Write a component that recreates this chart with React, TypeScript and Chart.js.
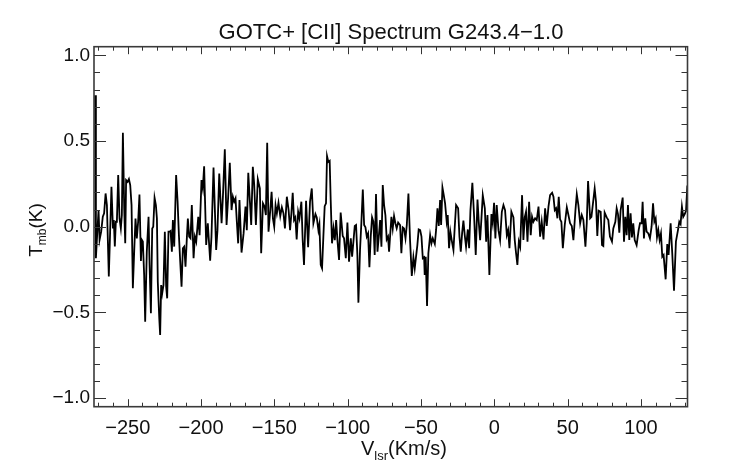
import { useEffect, useRef } from "react";
import { Chart, registerables } from "chart.js";

Chart.register(...registerables);

const titleText = "GOTC+ [CII] Spectrum G243.4\u22121.0";

// LSR velocity (km/s) of each vertex of the spectrum
const velocity = [
  -272.2, -271.7, -271.1, -269.9, -269.2, -268.1, -267.0, -266.1, -265.1, -264.2, -262.9, -262.0, -261.1, -260.1, -259.5, -258.8, -258.1, -257.4, -256.5, -255.6,
  -254.7, -254.0, -253.3, -252.4, -251.7, -251.1, -250.1, -249.2, -248.3, -247.4, -246.5, -245.6, -244.7, -243.8, -242.9, -242.0, -241.0, -240.4, -239.7, -238.8,
  -238.1, -237.0, -235.8, -235.1, -234.2, -233.3, -232.6, -231.7, -230.8, -230.1, -229.5, -228.5, -227.9, -227.2, -226.5, -225.6, -224.7, -223.8, -223.1, -222.2,
  -221.5, -220.8, -219.9, -219.2, -218.3, -217.0, -216.0, -215.1, -214.2, -213.3, -212.4, -211.5, -210.6, -209.7, -209.0, -208.1, -207.2, -206.3, -205.1,
  -204.2, -203.3, -201.9, -201.0, -199.7, -198.8, -197.9, -196.5, -195.4, -193.8, -192.9, -191.5, -189.7, -188.8, -187.6, -186.0, -185.1, -183.8, -182.6, -181.5,
  -180.4, -179.2, -178.3, -177.4, -176.5, -175.6, -174.7, -173.8, -172.4, -171.0, -169.7, -168.8, -167.8, -166.9, -165.8, -164.7, -163.8, -162.6, -161.3, -159.9,
  -159.0, -157.8, -156.7, -155.8, -154.9, -154.0, -152.8, -151.9, -151.0, -150.1, -149.2, -148.3, -147.2, -146.0, -144.9, -143.8, -142.8, -141.5, -140.3,
  -139.3, -138.4, -137.5, -136.6, -135.7, -134.8, -133.8, -132.9, -131.6, -130.7, -129.8, -128.4, -127.0, -125.7, -124.5, -123.4, -122.0, -121.1, -120.0, -119.3,
  -118.4, -117.5, -116.6, -115.7, -114.8, -114.1, -113.2, -112.3, -111.6, -110.7, -109.7, -108.8, -107.9, -107.0, -105.9, -104.8, -103.4, -102.5, -101.3, -100.2,
  -99.1, -97.9, -97.0, -96.1, -95.2, -94.3, -93.4, -92.7, -91.6, -90.7, -89.7, -88.8, -87.9, -87.0, -86.1, -85.2, -84.3, -83.4, -82.5, -81.6,
  -80.7, -79.7, -78.8, -77.9, -77.0, -76.1, -75.2, -74.3, -73.4, -72.5, -71.8,
  -70.2, -69.3, -68.4, -67.5, -66.6, -65.6, -64.3, -63.4, -62.5, -61.6, -60.6, -59.7, -58.6, -57.5, -56.3, -55.2, -54.3, -53.4, -52.5, -51.6,
  -50.6, -49.7, -48.8, -47.9, -47.5, -46.8, -45.9, -45.0, -43.8, -42.9, -42.0, -40.6, -39.7, -38.8, -37.9, -37.0, -36.3, -35.4, -34.5, -33.6,
  -32.5, -31.8, -30.9, -30.0, -29.1, -27.9, -27.0, -26.1, -24.7, -23.8, -22.9, -22.0, -21.1, -20.2, -19.3, -18.1, -17.2, -16.3, -15.0, -13.8,
  -12.7, -11.5, -10.6, -9.7, -8.8, -7.9, -6.5, -5.6, -4.7, -3.4,
  -2.0, -1.1, -0.2, 0.7, 1.6, 2.8, 3.9, 5.1, 6.2, 7.3, 8.5, 9.4, 10.3, 11.6, 13.0, 13.9, 14.8, 15.7, 16.7, 17.6,
  18.9, 19.8, 20.7, 21.6, 22.6, 23.7, 24.8, 25.7, 26.6, 27.8, 28.9, 30.1, 31.2, 32.3, 33.5, 34.6, 35.7, 36.9, 38.0, 39.4,
  40.3, 41.2, 42.1, 43.0, 43.9, 44.8, 45.7, 46.7, 48.0, 49.4, 50.5, 51.6, 52.8, 53.9, 55.3, 56.2, 57.3, 58.5, 59.6, 60.7,
  62.1, 63.0, 63.9, 65.3, 66.2,
  68.4, 69.3, 70.2, 71.1, 72.5, 73.4, 74.3, 75.2, 76.6, 77.7, 78.8, 80.2, 81.1, 82.5, 83.4, 84.3, 85.2, 86.1, 87.5, 88.4,
  89.3, 90.2, 91.1, 92.0, 92.9, 93.8, 94.7, 95.7, 97.0, 98.4, 99.3, 100.4, 101.1, 102.0, 102.9, 103.8, 105.0, 106.1, 107.2, 108.2,
  109.1, 110.0, 110.9, 111.8, 112.7, 113.6, 114.5, 115.4, 116.8, 117.9, 118.8, 120.2, 121.3, 122.5, 123.8, 125.2, 126.1, 127.0, 127.9, 128.8,
  129.8, 130.7, 131.6,
];

// main-beam temperature (K) at each vertex
const tmb = [
  0.767, -0.184, -0.087, 0.097, -0.077, -0.029, 0.058, 0.078, 0.194, 0.126, -0.291, -0.029, 0.233, -0.010, 0.039, -0.116, 0.029, 0.029, 0.301, 0.048,
  -0.010, 0.068, 0.548, 0.107, -0.097, 0.272, 0.262, 0.278, 0.243, 0.126, -0.359, -0.146, 0.048, -0.068, 0.029, 0.188, -0.200, -0.077, -0.087, -0.282,
  -0.554, -0.146, 0.058, -0.223, -0.505, -0.010, 0.0, 0.169, 0.126, 0.048, -0.321, -0.534, -0.631, -0.340, -0.389, -0.340, -0.029, -0.350, -0.418, -0.029,
  -0.029, -0.025, -0.146, 0.039, -0.116, 0.301, 0.146, -0.049, -0.204, -0.350, -0.126, -0.116, -0.233, -0.068, 0.048, -0.058, -0.068, 0.126, -0.184,
  -0.058, -0.087, 0.058, -0.049, 0.272, 0.223, 0.353, -0.107, 0.020, -0.198, -0.058, 0.345, -0.136, -0.020, 0.310, 0.020, 0.175, 0.451, 0.010, 0.175,
  0.373, 0.097, 0.175, 0.146, 0.165, 0.029, -0.097, 0.155, -0.151, -0.039, 0.117, -0.020, 0.314, 0.178, 0.010, 0.349, 0.252, 0.010, 0.276, 0.223,
  -0.155, 0.136, 0.117, 0.068, 0.489, -0.029, 0.097, 0.204, 0.049, 0.0, 0.126, 0.078, 0.140, 0.061, 0.113, 0.078, -0.010, 0.175, 0.097,
  -0.020, 0.078, 0.198, 0.039, 0.054, -0.074, 0.087, 0.049, 0.146, -0.078, -0.223, 0.151, -0.120, 0.146, 0.223, 0.020, 0.074, 0.054, -0.020, 0.015,
  -0.223, -0.243, -0.058, 0.120, 0.136, 0.412, 0.378, 0.384, 0.155, -0.097, -0.010, -0.078, 0.039, -0.078, -0.194, 0.082, -0.054, -0.068, -0.184, 0.024,
  -0.204, -0.068, -0.175, -0.087, 0.004, 0.010, -0.165, -0.443, -0.136, 0.020, 0.217, 0.010, -0.004, -0.058, -0.039, -0.237, -0.058, 0.054, 0.029, -0.165,
  0.190, -0.146, -0.058, 0.039, -0.117, 0.243, 0.126, 0.068, -0.074, -0.058, -0.146,
  0.058, -0.010, 0.062, 0.020, -0.010, 0.024, 0.010, -0.155, -0.004, -0.010, -0.068, 0.010, 0.194, -0.078, -0.287, -0.178, -0.243, -0.175, -0.107, -0.016,
  -0.020, -0.058, -0.184, -0.178, -0.282, -0.175, -0.462, -0.155, -0.049, -0.097, -0.068, -0.101, -0.016, 0.107, 0.004, 0.155, 0.010, 0.229, 0.184, 0.136,
  0.029, 0.068, -0.126, -0.029, -0.078, -0.136, 0.0, 0.126, 0.107, -0.058, -0.146, -0.039, 0.035, -0.049, -0.117, -0.016, -0.126, 0.097, 0.256, 0.058,
  -0.165, 0.159, 0.024, -0.078, 0.049, 0.184, 0.107, -0.087, 0.068, -0.282,
  0.074, 0.020, 0.140, -0.068, 0.126, -0.020, -0.078, 0.087, 0.126, 0.097, -0.049, -0.020, -0.126, 0.087, 0.054, -0.078, -0.155, -0.223, -0.087, -0.117,
  0.184, -0.078, 0.054, 0.087, -0.087, 0.146, -0.049, 0.058, 0.029, 0.049, 0.039, 0.117, -0.058, 0.029, -0.074, 0.107, 0.004, 0.117, 0.184, 0.198,
  0.175, 0.097, 0.107, 0.049, 0.175, 0.043, 0.029, -0.126, 0.010, 0.113, 0.068, 0.020, 0.004, -0.078, 0.097, 0.190, 0.126, 0.020, 0.068, 0.039,
  -0.117, 0.020, 0.267, 0.049, 0.058,
  0.223, 0.146, -0.054, 0.093, 0.087, -0.107, -0.113, 0.082, 0.054, 0.039, -0.058, -0.087, -0.010, 0.029, 0.107, 0.074, -0.035, 0.097, 0.170, -0.087,
  0.058, -0.049, 0.126, -0.078, 0.078, -0.062, 0.020, -0.078, -0.107, -0.020, 0.020, 0.020, 0.146, -0.068, 0.049, -0.029, -0.039, -0.068, 0.0, 0.136,
  0.029, 0.049, -0.062, -0.020, -0.078, -0.039, -0.175, -0.165, -0.307, -0.101, -0.165, 0.020, -0.155, -0.373, -0.087, -0.020, 0.029, 0.015, 0.117, 0.058,
  0.074, 0.093, 0.240,
];

const xRange = [-273, 131.7];
const yRange = [-1.05, 1.05];
const xMajorTicks = [-250, -200, -150, -100, -50, 0, 50, 100];
const xMinorTicks = [
  -270, -260, -240, -230, -220, -210, -190, -180, -170, -160, -140, -130, -120, -110,
  -90, -80, -70, -60, -40, -30, -20, -10, 10, 20, 30, 40, 60, 70, 80, 90, 110, 120, 130,
];
const yMajorTicks = [-1.0, -0.5, 0.0, 0.5, 1.0];
const yMinorTicks = [-0.9, -0.8, -0.7, -0.6, -0.4, -0.3, -0.2, -0.1, 0.1, 0.2, 0.3, 0.4, 0.6, 0.7, 0.8, 0.9];

const FONT = '"Liberation Sans", Arial, Helvetica, sans-serif';
const MINUS = "\u2212";

function drawSubscripted(
  ctx: CanvasRenderingContext2D,
  parts: { t: string; sub?: boolean }[],
  x: number,
  y: number,
  size: number,
  subSize: number,
  subShift: number
) {
  let w = 0;
  for (const p of parts) {
    ctx.font = `${p.sub ? subSize : size}px ${FONT}`;
    w += ctx.measureText(p.t).width;
  }
  let cx = x - w / 2;
  ctx.textAlign = "left";
  ctx.textBaseline = "alphabetic";
  for (const p of parts) {
    ctx.font = `${p.sub ? subSize : size}px ${FONT}`;
    ctx.fillText(p.t, cx, p.sub ? y + subShift : y);
    cx += ctx.measureText(p.t).width;
  }
}

const idlFrame = {
  id: "idlFrame",
  afterDraw(chart: any) {
    const { ctx, chartArea: a, scales } = chart;
    const xs = scales.x;
    const ys = scales.y;
    ctx.save();
    ctx.strokeStyle = "#333";
    ctx.lineWidth = 1;
    ctx.beginPath();
    const xTick = (v: number, len: number) => {
      const px = Math.round(xs.getPixelForValue(v)) + 0.5;
      if (px < a.left || px > a.right) return;
      ctx.moveTo(px, a.bottom);
      ctx.lineTo(px, a.bottom - len);
      ctx.moveTo(px, a.top);
      ctx.lineTo(px, a.top + len);
    };
    const yTick = (v: number, len: number) => {
      const py = Math.round(ys.getPixelForValue(v)) + 0.5;
      ctx.moveTo(a.left, py);
      ctx.lineTo(a.left + len, py);
      ctx.moveTo(a.right, py);
      ctx.lineTo(a.right - len, py);
    };
    xMinorTicks.forEach((v) => xTick(v, 4));
    xMajorTicks.forEach((v) => xTick(v, 7.5));
    yMinorTicks.forEach((v) => yTick(v, 6));
    yMajorTicks.forEach((v) => yTick(v, 12));
    ctx.stroke();
    ctx.lineWidth = 1.6;
    ctx.strokeStyle = "#3a3a3a";
    ctx.strokeRect(a.left, a.top, a.right - a.left, a.bottom - a.top);

    ctx.fillStyle = "#111";
    ctx.font = `22px ${FONT}`;
    ctx.textAlign = "center";
    ctx.textBaseline = "alphabetic";
    ctx.fillText(titleText, 391, 38.5);

    drawSubscripted(ctx, [{ t: "V" }, { t: "lsr", sub: true }, { t: "(Km/s)" }], 404, 455, 20, 13, 5);

    ctx.save();
    ctx.translate(42, 230);
    ctx.rotate(-Math.PI / 2);
    drawSubscripted(ctx, [{ t: "T" }, { t: "mb", sub: true }, { t: "(K)" }], 0, 0, 19, 12, 4);
    ctx.restore();
    ctx.restore();
  },
};

export default function App() {
  const ref = useRef<HTMLCanvasElement | null>(null);
  useEffect(() => {
    if (!ref.current) return;
    const n = Math.min(velocity.length, tmb.length);
    const points = [];
    for (let i = 0; i < n; i++) points.push({ x: velocity[i], y: tmb[i] });
    const chart = new Chart(ref.current, {
      type: "line",
      data: {
        datasets: [
          {
            data: points,
            borderColor: "#000",
            borderWidth: 1.8,
            pointRadius: 0,
            tension: 0,
            fill: false,
          },
        ],
      },
      options: {
        responsive: false,
        animation: false,
        events: [],
        layout: { padding: { left: 0, right: 54.5, top: 46.7, bottom: 0 } },
        plugins: { legend: { display: false }, tooltip: { enabled: false }, title: { display: false } },
        scales: {
          x: {
            type: "linear",
            min: xRange[0],
            max: xRange[1],
            grid: { display: false, drawTicks: false },
            border: { display: false },
            afterBuildTicks: (s: any) => {
              s.ticks = xMajorTicks.map((v) => ({ value: v }));
            },
            afterFit: (s: any) => {
              s.height = 57.3;
            },
            ticks: {
              autoSkip: false,
              maxRotation: 0,
              padding: 10,
              color: "#111",
              font: { family: FONT, size: 20 },
              callback: (v: any) => String(v).replace("-", MINUS),
            },
          },
          y: {
            type: "linear",
            min: yRange[0],
            max: yRange[1],
            grid: { display: false, drawTicks: false },
            border: { display: false },
            afterBuildTicks: (s: any) => {
              s.ticks = yMajorTicks.map((v) => ({ value: v }));
            },
            afterFit: (s: any) => {
              s.width = 94;
            },
            ticks: {
              autoSkip: false,
              padding: 4,
              color: "#111",
              font: { family: FONT, size: 19 },
              callback: (v: any) => Number(v).toFixed(1).replace("-", MINUS),
            },
          },
        },
      },
      plugins: [idlFrame],
    });
    return () => chart.destroy();
  }, []);
  return (
    <div style={{ position: "absolute", left: 0, top: 0, width: 742, height: 464, background: "#fff" }}>
      <canvas ref={ref} width={742} height={464} style={{ display: "block" }} />
    </div>
  );
}
